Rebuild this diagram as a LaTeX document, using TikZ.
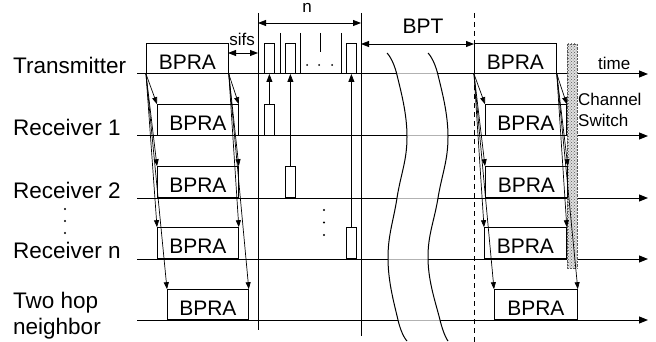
\documentclass[tikz,border=0pt]{standalone}
\usepackage{fontspec}
\setmainfont{Liberation Sans}
\usetikzlibrary{arrows.meta,patterns}
\begin{document}
\begin{tikzpicture}[x=1pt,y=-1pt,
  tl/.style={line width=1pt},
  lab/.style={anchor=base west,inner sep=0pt,font=\fontsize{22.5}{27}\selectfont},
  small/.style={inner sep=0pt,font=\fontsize{17}{20}\selectfont},
  bpra/.style={draw,line width=0.8pt,anchor=south west,inner sep=0pt,minimum height=30,
    text height=21pt,text depth=0pt,font=\fontsize{21}{24}\selectfont},
  pulse/.style={draw,line width=0.8pt,anchor=south west,inner sep=0pt,minimum width=10,minimum height=30},
  fan/.style={line width=0.7pt,-{Triangle[length=7pt,width=5pt]}},
  uparr/.style={line width=0.8pt,-{Triangle[length=8pt,width=6pt]}},
  dim/.style={line width=0.8pt,{Triangle[length=8pt,width=6pt]}-{Triangle[length=8pt,width=6pt]}},
  wave/.style={line width=1pt},
  dot/.style={fill,circle,inner sep=0pt,minimum size=2.4pt}]
\useasboundingbox (0,0) rectangle (656,342);

% timelines
\foreach \n/\y/\a/\b in {t/74/397/438, r1/136/407/448, r2/198/397/438, rn/259/388/428, th/320/398/440} {
  \coordinate (\n s) at (137,\y);
  \coordinate (\n a) at (\a,\y);
  \coordinate (\n b) at (\b,\y);
  \coordinate (\n e) at (648,\y);
  \draw[tl] (\n s) -- (\n a);
  \draw[tl,gray!60] (\n a) -- (\n b);
  \draw[tl,-{Triangle[length=9pt,width=7pt]}] (\n b) -- (\n e);
}

% row labels
\node[lab] (lt) at (13,74) {Transmitter};
\node[lab] (l1) at (13,136) {Receiver 1};
\node[lab] (l2) at (13,198) {Receiver 2};
\node[lab] (ln) at (13,258) {Receiver n};
\node[lab] (lh1) at (13,308) {Two hop};
\node[lab] (lh2) at (13,334) {neighbor};
\foreach \yy in {209,221,233} \node[dot] at (65,\yy) {};

% vertical markers
\coordinate (va1) at (258,13); \coordinate (va2) at (258,330);
\coordinate (vb1) at (361,13); \coordinate (vb2) at (361,336);
\draw[line width=0.9pt] (va1) -- (va2);
\draw[line width=0.9pt] (vb1) -- (vb2);
\coordinate (vd1) at (474,13); \coordinate (vd2) at (474,342);
\draw[line width=0.9pt,dash pattern=on 5pt off 4pt] (vd1) -- (vd2);

% break curves
\draw[wave] plot[smooth,tension=0.7] coordinates {(387,53) (397,75) (407,137) (397,198) (388,259) (398,320) (407,341)};
\draw[wave] plot[smooth,tension=0.7] coordinates {(428,53) (438,75) (448,137) (438,198) (428,259) (440,320) (448,341)};

% channel switch bar
\fill[gray!25] (567,44) rectangle (577,268);
\draw[gray!70!black,densely dotted,pattern=crosshatch dots,pattern color=gray!70!black] (567,44) rectangle (577,268);

% left BPRA boxes
\node[bpra,minimum width=82] (tL) at (146,74) {BPRA};
\node[bpra,minimum width=81,minimum height=31] (r1L) at (157,136) {BPRA};
\node[bpra,minimum width=81,minimum height=31] (r2L) at (157,198) {BPRA};
\node[bpra,minimum width=81,minimum height=31] (rnL) at (157,259) {BPRA};
\node[bpra,minimum width=81] (thL) at (167,320) {BPRA};
% right BPRA boxes
\node[bpra,minimum width=82] (tR) at (474,74) {BPRA};
\node[bpra,minimum width=81,minimum height=31] (r1R) at (485,136) {BPRA};
\node[bpra,minimum width=82,minimum height=31] (r2R) at (485,198) {BPRA};
\node[bpra,minimum width=82,minimum height=31] (rnR) at (484,259) {BPRA};
\node[bpra,minimum width=83] (thR) at (494,320) {BPRA};

% fan arrows
\foreach \r in {r1L,r2L,rnL,thL} {
  \draw[fan] (tL.south west) -- (\r.north west);
  \draw[fan] (tL.south east) -- (\r.north east);
}
\foreach \r in {r1R,r2R,rnR,thR} {
  \draw[fan] (tR.south west) -- (\r.north west);
  \draw[fan] (tR.south east) -- (\r.north east);
}

% transmitter pulses
\node[pulse] (p1) at (264,74) {};
\node[pulse] (p2) at (285,74) {};
\node[pulse] (p3) at (346,74) {};
\draw[line width=0.8pt] (280,33) -- (280,74);
\draw[line width=0.8pt] (300,33) -- (300,74);
\draw[line width=0.8pt] (341,33) -- (341,74);
\draw[line width=0.8pt] (320,33) -- (320,52);
\foreach \xx in {307,319,332} \node[dot,minimum size=2pt] at (\xx,65) {};

% receiver pulses with replies
\node[pulse,minimum height=31] (q1) at (264,136) {};
\node[pulse,minimum height=31] (q2) at (285,198) {};
\node[pulse,minimum height=31] (qn) at (346,259) {};
\draw[uparr] (q1.north) -- (q1.north |- ts);
\draw[uparr] (q2.north) -- (q2.north |- ts);
\draw[uparr] (qn.north) -- (qn.north |- ts);
\foreach \yy in {210,222.5,235} \node[dot] at (324,\yy) {};

% dimension arrows
\coordinate (sa) at (228,53); \coordinate (sb) at (258,53);
\draw[dim] (sa) -- (sb);
\node[small] (sifs) at (242,39) {sifs};
\coordinate (na) at (258,23); \coordinate (nb) at (361,23);
\draw[dim] (na) -- (nb);
\node[small] (nl) at (307,8) {n};
\coordinate (ba) at (361,44); \coordinate (bb) at (474,44);
\draw[dim] (ba) -- (bb);
\node[inner sep=0pt,font=\fontsize{21}{24}\selectfont] (bpt) at (423,26) {BPT};

% right labels
\node[small,anchor=base west] (time) at (598,70) {time};
\node[small,anchor=base west] (ch) at (578,106) {Channel};
\node[small,anchor=base west] (sw) at (578,127) {Switch};
\end{tikzpicture}
\end{document}
